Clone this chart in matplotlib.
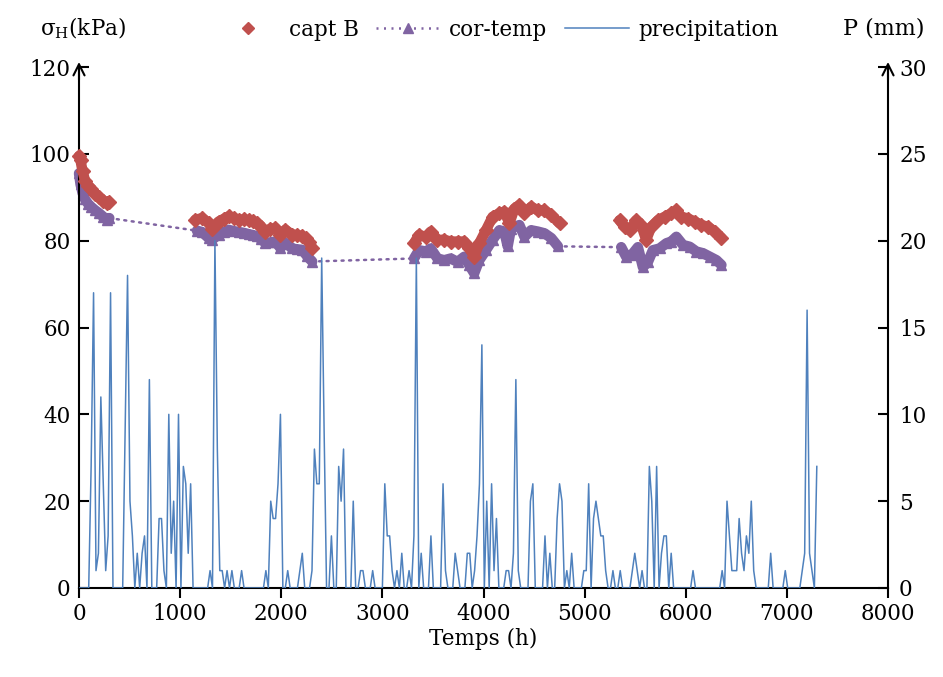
import numpy as np
import matplotlib
matplotlib.use('Agg')
import matplotlib.pyplot as plt
from matplotlib.lines import Line2D

plt.rcParams['font.family'] = ['DejaVu Serif']
plt.rcParams['mathtext.fontset'] = 'dejavuserif'

RED = '#C0504D'
PURPLE = '#8064A2'
BLUE = '#4F81BD'
FS = 15.5

# capt B, sigma_H (kPa) vs time (h), four measurement periods
captb_h = [[0, 15, 35, 60, 90, 120, 160, 200, 240, 275, 300],
           [1150, 1216, 1282, 1315, 1380, 1430, 1480, 1530, 1580, 1630, 1678, 1720, 1760,
            1800, 1843, 1890, 1942, 1992, 2041, 2108, 2160, 2207, 2240, 2273, 2306],
           [3313, 3362, 3429, 3478, 3545, 3611, 3677, 3743, 3809, 3858, 3908, 3958, 4024,
            4090, 4157, 4206, 4256, 4306, 4355, 4405, 4471, 4537, 4603, 4670, 4752],
           [5345, 5395, 5444, 5510, 5560, 5609, 5659, 5725, 5791, 5857, 5907, 5957, 6023,
            6089, 6155, 6221, 6287, 6353]]
captb_v = [[99.5, 98.5, 96.0, 93.8, 92.5, 91.8, 90.8, 90.0, 89.2, 88.6, 88.8],
           [84.8, 85.2, 84.1, 82.8, 84.4, 85.0, 85.6, 85.2, 84.8, 84.9, 84.7, 84.5, 84.1,
            83.2, 82.1, 82.7, 82.9, 81.4, 82.5, 81.4, 81.3, 81.0, 80.6, 79.8, 78.3],
           [79.4, 81.3, 80.9, 82.1, 80.2, 80.2, 79.8, 79.8, 79.8, 78.3, 76.3, 79.4, 82.4,
            85.5, 86.3, 86.7, 84.0, 87.4, 88.2, 86.3, 87.8, 87.0, 87.0, 85.9, 84.0],
           [84.7, 83.2, 82.4, 84.7, 83.6, 80.2, 83.2, 84.7, 85.5, 86.3, 87.0, 85.5, 85.1,
            84.4, 83.6, 83.2, 82.1, 80.6]]

# cor-temp (temperature corrected)
cortemp_h = [[0, 15, 35, 60, 90, 120, 160, 200, 240, 275, 300],
             [1166, 1216, 1282, 1315, 1380, 1430, 1480, 1530, 1580, 1630, 1678, 1720, 1760,
              1800, 1843, 1890, 1942, 1992, 2041, 2108, 2160, 2207, 2257, 2306],
             [3313, 3362, 3429, 3478, 3545, 3611, 3677, 3743, 3809, 3858, 3908, 3958, 4024,
              4090, 4157, 4206, 4239, 4272, 4355, 4405, 4471, 4537, 4603, 4670, 4736],
             [5362, 5411, 5461, 5527, 5576, 5626, 5675, 5741, 5808, 5857, 5907, 5973, 6039,
              6105, 6172, 6238, 6304, 6353]]
cortemp_v = [[95.5, 93.0, 91.0, 89.5, 88.5, 87.8, 87.0, 86.3, 85.5, 84.8, 85.2],
             [82.3, 82.0, 80.6, 80.2, 81.4, 82.0, 82.5, 82.2, 82.0, 81.8, 81.5, 81.3, 81.0,
              80.3, 79.5, 79.6, 79.8, 78.3, 79.5, 78.2, 78.0, 77.9, 76.4, 75.2],
             [75.9, 77.8, 77.5, 78.2, 75.9, 75.5, 75.9, 75.1, 76.3, 74.4, 72.5, 75.5, 77.8,
              80.2, 82.4, 82.1, 78.7, 82.8, 83.6, 80.9, 82.4, 82.1, 81.7, 80.6, 78.7],
             [78.5, 76.3, 76.6, 78.5, 73.9, 75.1, 77.8, 78.2, 79.4, 79.8, 80.9, 79.0, 78.6,
              77.5, 77.1, 76.3, 75.5, 74.4]]

# daily precipitation (mm): rainy days only, every other day is 0
n_days = 305
rain_day = [5, 6, 7, 8, 9, 10, 11, 12, 13, 19, 20, 21, 22, 24, 26, 27, 29, 33, 34, 35,
            37, 38, 39, 41, 43, 44, 45, 46, 54, 56, 57, 58, 59, 61, 63, 67, 77, 79, 80,
            81, 82, 83, 86, 91, 92, 96, 97, 98, 99, 100, 101, 104, 107, 108, 109, 113,
            116, 117, 121, 126, 127, 128, 129, 131, 133, 136, 138, 139, 141, 145, 150,
            151, 155, 156, 160, 161, 163, 164, 165, 166, 168, 170, 171, 172, 176, 177,
            179, 180, 181, 186, 187, 192, 194, 197, 198, 199, 201, 203, 208, 209, 210,
            212, 213, 214, 215, 216, 217, 220, 223, 228, 229, 230, 232, 235, 236, 238,
            240, 241, 242, 244, 253, 265, 267, 268, 269, 270, 271, 272, 273, 274, 275,
            276, 277, 278, 285, 291, 298, 299, 300, 301, 302, 304]
rain_mm = [7, 17, 1, 2, 11, 6, 1, 3, 17, 9, 18, 5, 3, 2, 2, 3, 12, 4, 4, 1,
           10, 2, 5, 10, 7, 6, 2, 6, 1, 20, 8, 1, 1, 1, 1, 1, 1, 5, 4,
           4, 6, 10, 1, 1, 2, 1, 8, 6, 6, 19, 9, 3, 7, 5, 8, 5,
           1, 1, 1, 6, 3, 3, 1, 1, 2, 1, 3, 19, 2, 3, 6,
           1, 2, 1, 2, 2, 1, 3, 6, 14, 5, 6, 1, 4, 1, 1,
           2, 12, 1, 5, 6, 3, 2, 4, 6, 5, 1, 2, 1, 1, 6,
           4, 5, 4, 3, 3, 1, 1, 1, 1, 2, 1, 1, 7, 5, 7,
           2, 3, 3, 2, 1, 1, 5, 3, 1, 1, 1, 4, 2, 1, 3,
           2, 5, 1, 2, 1, 1, 2, 16, 2, 1, 7]

precip = np.zeros(n_days)
precip[rain_day] = rain_mm
precip_h = np.arange(n_days) * 24

fig = plt.figure(figsize=(9.43, 6.77), dpi=100)
ax = fig.add_axes([79 / 943, 1 - 588 / 677, 809 / 943, 521 / 677])
ax2 = ax.twinx()

# thick bands for each measurement period
for h, v in zip(captb_h, captb_v):
    ax.plot(h, v, color=RED, lw=7.5, solid_capstyle='round', solid_joinstyle='round',
            zorder=3, clip_on=False)
    ax.plot(h, v, ls='none', marker='D', ms=7, color=RED, zorder=3, clip_on=False)
for h, v in zip(cortemp_h, cortemp_v):
    ax.plot(h, v, color=PURPLE, lw=7.5, solid_capstyle='round', solid_joinstyle='round',
            zorder=2, clip_on=False)
    ax.plot(h, v, ls='none', marker='^', ms=7, color=PURPLE, zorder=2, clip_on=False)
# dotted link across the gaps
all_h = np.concatenate(cortemp_h)
all_v = np.concatenate(cortemp_v)
ax.plot(all_h, all_v, color=PURPLE, lw=1.8, ls=(0, (0.8, 2.2)), dash_capstyle='round', zorder=1)

ax2.plot(precip_h, precip, color=BLUE, lw=1.1)

ax.set_xlim(0, 8000)
ax.set_ylim(0, 120)
ax2.set_ylim(0, 30)
ax.set_xticks(np.arange(0, 8001, 1000))
ax.set_yticks(np.arange(0, 121, 20))
ax2.set_yticks(np.arange(0, 31, 5))

for a in (ax, ax2):
    a.spines['top'].set_visible(False)
    for s in a.spines.values():
        s.set_linewidth(1.5)
ax.spines['right'].set_visible(False)
ax2.spines['left'].set_visible(False)
ax2.spines['bottom'].set_visible(False)

ax.tick_params(axis='y', direction='in', length=7, width=1.5, labelsize=FS, pad=6)
ax.tick_params(axis='x', direction='out', length=7, width=1.5, labelsize=FS, pad=4)
ax2.tick_params(axis='y', direction='in', length=7, width=1.5, labelsize=FS, pad=8)

# arrow heads on the two vertical axes
for xa in (0, 1):
    ax.annotate('', xy=(xa, 1.015), xytext=(xa, 0.97), xycoords='axes fraction',
                arrowprops=dict(arrowstyle='->', lw=1.5, color='black',
                                mutation_scale=20), annotation_clip=False)

ax.set_xlabel('Temps (h)', fontsize=FS, labelpad=2)
fig.text(40 / 943, 1 - 28 / 677, r'σ$_\mathrm{H}$(kPa)', fontsize=FS, va='center', ha='left')
fig.text(843 / 943, 1 - 28 / 677, 'P (mm)', fontsize=FS + 0.5, va='center', ha='left')

handles = [Line2D([], [], ls='none', marker='D', ms=6.5, color=RED),
           Line2D([], [], color=PURPLE, lw=1.8, ls=(0, (0.8, 2.2)), marker='^', ms=6.5),
           Line2D([], [], color=BLUE, lw=1.1)]
fig.legend(handles, ['capt B', 'cor-temp', 'precipitation'], loc='center',
           bbox_to_anchor=(497 / 943, 1 - 30 / 677), ncol=3, frameon=False,
           fontsize=FS, handlelength=3, handletextpad=0.4, columnspacing=0.8)

fig.savefig('out.png', dpi=100)
